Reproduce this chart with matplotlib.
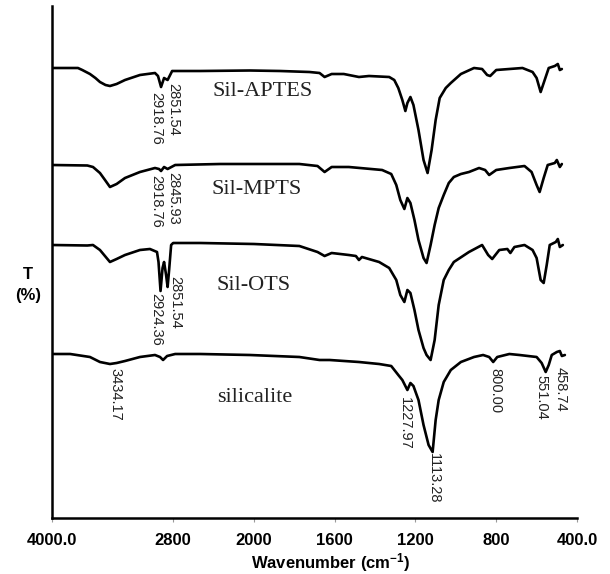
import numpy as np
import matplotlib
matplotlib.use('Agg')
import matplotlib.pyplot as plt

plt.rcParams['mathtext.fontset'] = 'custom'
plt.rcParams['mathtext.rm'] = 'Liberation Sans:bold'
plt.rcParams['mathtext.default'] = 'regular'

# spectra (wavenumber cm-1, stacked T)
aptes_w = [4000, 3743, 3700, 3624, 3570, 3525, 3470, 3426, 3360, 3277, 3129, 2980, 2950, 2920, 2890,
           2855, 2810, 2530, 2040, 1870, 1725, 1675, 1650, 1615, 1555, 1480, 1430, 1330, 1305, 1285,
           1265, 1250, 1240, 1225, 1210, 1185, 1160, 1140, 1120, 1100, 1080, 1050, 1025, 975, 910, 870,
           845, 830, 800, 735, 670, 620, 600, 580, 560, 540, 510, 495, 485, 475]
aptes_t = [90.0, 90.0, 89.6, 88.8, 88.0, 87.2, 86.6, 86.4, 86.8, 87.6, 88.6, 89.0, 88.4, 86.2, 88.0,
           87.6, 89.4, 89.4, 89.5, 89.4, 89.2, 89.0, 88.2, 88.8, 88.8, 88.2, 88.4, 88.2, 87.6, 86.0,
           83.6, 81.4, 83.0, 84.2, 82.6, 77.6, 71.6, 69.0, 73.6, 79.6, 84.0, 86.0, 87.0, 88.8, 90.0, 89.8,
           88.6, 88.4, 89.6, 89.8, 90.0, 89.2, 88.0, 85.2, 87.6, 90.0, 90.4, 90.8, 89.6, 89.8]

mpts_w = [4000, 3650, 3594, 3525, 3475, 3426, 3360, 3277, 3129, 2980, 2940, 2920, 2890, 2855, 2780,
          2335, 2000, 1775, 1685, 1650, 1615, 1530, 1365, 1320, 1295, 1275, 1255, 1240, 1225, 1205,
          1185, 1160, 1145, 1125, 1105, 1085, 1060, 1035, 1010, 975, 935, 885, 855, 835, 800, 735, 660,
          625, 600, 585, 565, 545, 510, 500, 485, 475]
mpts_t = [70.6, 70.5, 70.2, 69.0, 67.6, 66.2, 66.8, 68.0, 69.2, 70.0, 69.8, 69.4, 70.2, 69.8, 70.6,
          70.8, 70.8, 70.8, 70.4, 69.2, 70.2, 70.2, 69.6, 68.8, 66.6, 63.6, 61.8, 64.0, 63.0, 59.6,
          55.6, 52.0, 51.0, 54.6, 58.6, 62.0, 64.6, 67.0, 68.2, 68.8, 69.2, 70.0, 69.6, 68.6, 69.6, 70.0, 70.4,
          69.2, 66.6, 65.2, 68.0, 70.6, 71.0, 71.6, 70.2, 70.8]

ots_w = [4000, 3650, 3594, 3525, 3426, 3360, 3277, 3129, 3030, 2960, 2945, 2925, 2905, 2890, 2870,
         2855, 2840, 2820, 2800, 2530, 2000, 1775, 1685, 1650, 1615, 1530, 1495, 1480, 1465, 1380,
         1330, 1295, 1275, 1255, 1240, 1225, 1205, 1185, 1160, 1145, 1125, 1105, 1085, 1060, 1035, 1010,
         935, 870, 840, 820, 785, 745, 730, 710, 660, 620, 600, 580, 565, 550, 535, 505, 495, 485, 470]
ots_t = [54.6, 54.5, 54.6, 53.6, 51.2, 51.8, 52.6, 53.6, 53.8, 53.2, 51.2, 45.4, 50.0, 51.2, 48.6,
         46.2, 49.6, 54.6, 55.0, 55.0, 54.8, 54.4, 53.2, 52.4, 53.0, 52.6, 52.4, 51.6, 52.2, 51.2,
         50.0, 47.6, 44.6, 43.2, 45.6, 45.0, 41.6, 37.6, 34.0, 32.6, 31.6, 35.6, 42.6, 47.6, 49.6, 51.2,
         53.2, 54.6, 52.6, 51.8, 53.6, 53.8, 53.0, 54.2, 54.6, 53.6, 52.0, 47.6, 47.0, 50.6, 54.6, 55.2,
         55.8, 54.2, 54.6]

sil_w = [4000, 3820, 3624, 3525, 3426, 3360, 3277, 3129, 2980, 2930, 2900, 2860, 2780, 2530, 2040,
         1775, 1675, 1625, 1480, 1380, 1320, 1285, 1265, 1240, 1225, 1210, 1185, 1160, 1135, 1115,
         1100, 1085, 1060, 1025, 975, 910, 865, 835, 815, 795, 735, 685, 600, 575, 555, 540, 525, 500,
         485, 475, 460]
sil_t = [32.8, 32.8, 32.2, 31.2, 30.8, 31.0, 31.4, 32.2, 32.6, 32.2, 31.6, 32.4, 32.8, 32.8, 32.6,
         32.2, 31.6, 31.6, 31.2, 30.8, 30.4, 28.6, 27.6, 25.6, 27.0, 26.4, 23.6, 18.6, 14.6, 13.2,
         19.6, 23.6, 27.2, 29.6, 31.2, 32.2, 32.6, 32.2, 31.2, 32.2, 32.8, 32.6, 32.2, 31.0, 29.2, 30.6,
         32.6, 33.2, 33.4, 32.4, 32.6]

names = ['Sil-APTES', 'Sil-MPTS', 'Sil-OTS', 'silicalite']
name_pos = [(1956, 85.2), (1985, 65.8), (2000, 46.4), (1995, 24.2)]

peak_labels = ['2918.76', '2851.54', '2918.76', '2845.93', '2924.36', '2851.54',
               '3434.17', '1227.97', '1113.28', '800.00', '551.04', '458.74']
peak_pos = [(2970, 85.2), (2800, 87.0), (2970, 68.6), (2800, 69.2), (2970, 45.0), (2780, 48.4),
            (3375, 30.0), (1250, 24.2), (1110, 13.0), (805, 30.0), (575, 28.6), (480, 30.2)]

tick_vals = [4000, 2800, 2000, 1600, 1200, 800, 400]
tick_text = ['4000.0', '2800', '2000', '1600', '1200', '800', '400.0']


# scale changes at 2000 cm-1 (half expansion above)
def fwd(w):
    w = np.asarray(w, dtype=float)
    return np.where(w >= 2000, (w - 2000) * 0.5, w - 2000)


def inv(u):
    u = np.asarray(u, dtype=float)
    return np.where(u >= 0, 2000 + 2 * u, 2000 + u)


fig = plt.figure(figsize=(6.1, 5.74), dpi=100)
ax = fig.add_axes([52 / 610, 56 / 574, 525 / 610, 512 / 574])
ax.set_xscale('function', functions=(fwd, inv))

for w, t in [(aptes_w, aptes_t), (mpts_w, mpts_t), (ots_w, ots_t), (sil_w, sil_t)]:
    ax.plot(w, t, color='black', lw=1.9, solid_joinstyle='round', solid_capstyle='round')

for n, (x, y) in zip(names, name_pos):
    ax.text(x, y, n, family='Liberation Serif', fontsize=16, ha='center', va='center', color='#222222')

for lab, (x, y) in zip(peak_labels, peak_pos):
    ax.text(x, y, lab, family='Liberation Sans', fontsize=10.5, rotation=-90,
            ha='center', va='top', color='#222222')

ax.set_xlim(4000, 400)
ax.set_ylim(0, 102.4)
ax.set_xticks(tick_vals)
ax.set_xticklabels(tick_text, family='Liberation Sans', fontweight='bold', fontsize=12)
ax.tick_params(axis='x', length=3, width=0.8, color='#999999', pad=8)
ax.set_yticks([])
ax.spines['top'].set_visible(False)
ax.spines['right'].set_visible(False)
ax.spines['left'].set_linewidth(1.8)
ax.spines['bottom'].set_linewidth(1.8)

ax.set_xlabel('Wavenumber (cm$^{-1}$)', family='Liberation Sans', fontweight='bold', fontsize=12)
ax.xaxis.set_label_coords(0.531, -0.064)
ax.set_ylabel('T\n(%)', family='Liberation Sans', fontweight='bold', fontsize=12,
              rotation=0, ha='center', va='center', linespacing=1.5)
ax.yaxis.set_label_coords(-0.046, 0.455)

fig.savefig('out.png', dpi=100)
